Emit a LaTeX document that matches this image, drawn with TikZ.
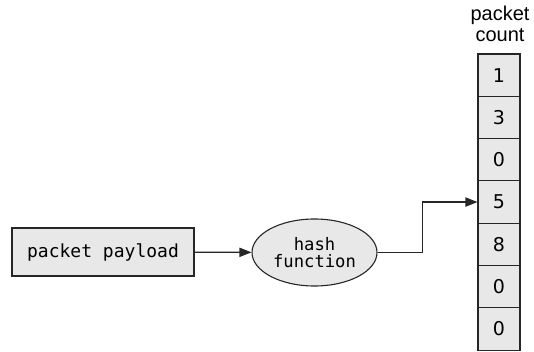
\documentclass[tikz,border=0pt]{standalone}
\usepackage{fontspec}
\setmainfont{Liberation Sans}
\newfontfamily\codefont{DejaVu Sans Mono}
\newfontfamily\digitfont{DejaVu Sans}
\usetikzlibrary{arrows.meta,shapes.geometric}
\definecolor{cellgray}{gray}{0.91}
\definecolor{linegray}{gray}{0.15}
\tikzset{
  box/.style={draw=linegray,fill=cellgray,line width=0.55pt,inner sep=0pt},
  cell/.style={box,minimum width=21pt,minimum height=21.15pt,
    font=\digitfont\fontsize{9.5}{10}\selectfont},
  conn/.style={draw=linegray,line width=0.6pt,-{Triangle[length=6pt,width=4.6pt]}}
}
\begin{document}
\begin{tikzpicture}[x=0.5pt,y=-0.5pt]
\useasboundingbox (0,0) rectangle (534,352);
\node[box,minimum width=91pt,minimum height=24pt,
  font=\codefont\fontsize{9}{10}\selectfont] (payload) at (103,252) {packet payload};
\node[box,ellipse,minimum width=62.5pt,minimum height=33.5pt,align=center,
  font=\codefont\fontsize{8.6}{8.6}\selectfont] (hash) at (314.5,252.5) {hash\\function};
\node[align=center,font=\fontsize{10}{10.5}\selectfont] (title) at (500,24) {packet\\count};
% table of counters
\foreach \v [count=\i] in {1,3,0,5,8,0,0}
  \node[cell] (c\i) at (499,{54+42.3*(\i-0.5)}) {\v};
\draw[conn] (payload) -- (hash);
\draw[conn] (hash.east) -- ++(45,0) |- (c4.west);
\end{tikzpicture}
\end{document}
